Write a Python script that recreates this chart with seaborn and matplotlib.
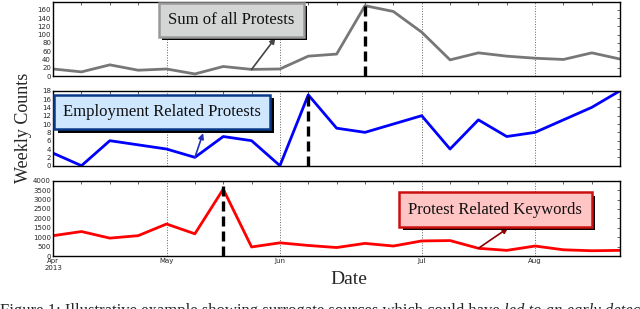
import numpy as np
import pandas as pd
import matplotlib.pyplot as plt
import matplotlib.patheffects as pe
import seaborn as sns

# ─────────────────────────────────────────────────────────────
#  Data (weekly counts)
# ─────────────────────────────────────────────────────────────
weeks = list(range(21))
total_protests = [17, 10, 27, 14, 17, 5, 23, 16, 17, 48, 53, 170, 156, 106,
                  39, 56, 48, 43, 40, 56, 41]
employment_protests = [3, 0, 6, 5, 4, 2, 7, 6, 0, 17, 9, 8, 10, 12,
                       4, 11, 7, 8, 11, 14, 18]
keyword_counts = [1080, 1300, 950, 1080, 1700, 1180, 3550, 480, 700, 560,
                  450, 670, 530, 800, 820, 410, 300, 530, 330, 280, 300]

month_ticks = [0, 4, 8, 13, 17]
month_labels = ["Apr\n2013", "May", "Jun", "Jul", "Aug"]

df = pd.DataFrame({
    "week": weeks,
    "total": total_protests,
    "employment": employment_protests,
    "keywords": keyword_counts,
})

SERIF = ["Liberation Serif", "DejaVu Serif"]

sns.set_style("white")
plt.rcParams["font.family"] = ["DejaVu Sans"]

fig = plt.figure(figsize=(6.4, 3.09), dpi=100)
L, W = 0.083, 0.886
ax_top = fig.add_axes([L, 0.754, W, 0.241])
ax_mid = fig.add_axes([L, 0.4638, W, 0.2427])
ax_bot = fig.add_axes([L, 0.1715, W, 0.2437])

panels = [
    # ax, column, colour, ylim, yticks, event week
    (ax_top, "total", "#777777", 180, np.arange(0, 161, 20), 11),
    (ax_mid, "employment", "#0000ff", 18, np.arange(0, 19, 2), 9),
    (ax_bot, "keywords", "#ff0000", 4000, np.arange(0, 4001, 500), 6),
]

for ax, col, color, ymax, yticks, event in panels:
    sns.lineplot(data=df, x="week", y=col, color=color, linewidth=2.0, ax=ax)
    ax.set_xlim(0, 20)
    ax.set_ylim(0, ymax)
    ax.set_yticks(yticks)
    ax.set_xticks(month_ticks)
    ax.set_xticks(weeks, minor=True)
    ax.tick_params(axis="both", which="both", direction="in", top=True,
                   right=True, labelsize=5, length=2, width=0.5, pad=1.5)
    ax.tick_params(axis="x", which="major", length=0)
    for x in month_ticks[1:]:
        ax.axvline(x, color="#666666", linestyle=":", linewidth=0.7, zorder=0)
    ax.axvline(event, color="black", linestyle=(0, (3, 1.5)), linewidth=2.4,
               zorder=3)
    for s in ax.spines.values():
        s.set_linewidth(1.0)
        s.set_color("black")
    ax.set_xlabel("")
    ax.set_ylabel("")

ax_top.set_xticklabels([])
ax_mid.set_xticklabels([])
ax_bot.set_xticklabels(month_labels)


def label_box(ax, text, xy_text, point, head, face, edge, arrow_color):
    t = ax.text(*xy_text, text, ha="center", va="center", fontsize=12,
                family=SERIF, color="#111111", zorder=6,
                bbox=dict(boxstyle="square,pad=0.55", facecolor=face,
                          edgecolor=edge, linewidth=1.8))
    t.get_bbox_patch().set_path_effects([
        pe.withSimplePatchShadow(offset=(2.5, -2.5), shadow_rgbFace="black",
                                 alpha=1.0)])
    ax.annotate("", xy=head, xytext=point, zorder=5,
                arrowprops=dict(arrowstyle="-|>", color=arrow_color,
                                linewidth=1.2, mutation_scale=8,
                                shrinkA=0, shrinkB=0))


label_box(ax_top, "Sum of all Protests", (6.28, 136), (7, 16), (7.84, 92),
          "#d4d6d5", "#999999", "#444444")
label_box(ax_mid, "Employment Related Protests", (3.85, 12.9), (5, 2),
          (5.29, 7.8), "#cfe8ff", "#0a3a8a", "#2030b0")
label_box(ax_bot, "Protest Related Keywords", (15.6, 2470), (15, 410),
          (16.05, 1490), "#ffc4c4", "#cc1010", "#8b0000")

fig.text(0.036, 0.585, "Weekly Counts", rotation=90, ha="center",
         va="center", fontsize=13, family=SERIF)
fig.text(0.545, 0.095, "Date", ha="center", va="center", fontsize=14,
         family=SERIF)

# caption, partly cut off at the bottom edge as in the reference
cap_y = -0.018
cap1 = fig.text(0.0, cap_y,
                "Figure 1: Illustrative example showing surrogate sources "
                "which could have ",
                ha="left", va="baseline", fontsize=12, family=SERIF)
fig.canvas.draw()
bb = cap1.get_window_extent()
fig.text(bb.x1 / fig.bbox.width, cap_y, "led to an early detection",
         ha="left", va="baseline", fontsize=12, family=SERIF,
         style="italic")

fig.savefig("out.png", dpi=100)
